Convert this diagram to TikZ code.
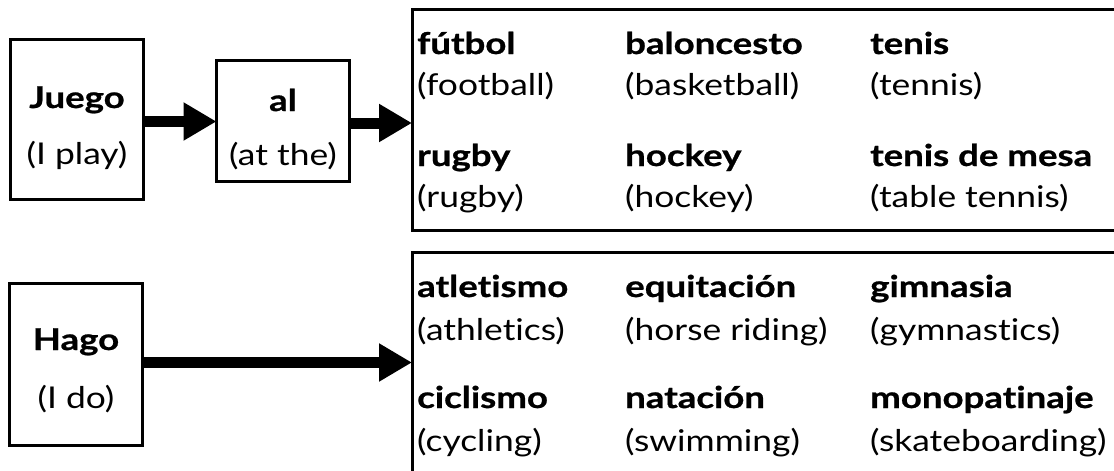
\documentclass[tikz,border=0pt]{standalone}
\usepackage{fontspec}
\setmainfont[Ligatures=NoCommon]{Lato}
\newfontfamily\trfont[Ligatures=NoCommon, FakeStretch=1.18]{Lato}
\newfontfamily\wdfont[Ligatures=NoCommon, FakeStretch=1.22, BoldFeatures={FakeBold=0.8}]{Lato}
\usetikzlibrary{arrows.meta}
\tikzset{
  frame/.style={draw=black, line width=3pt, rectangle, inner sep=0pt, outer sep=0pt},
  bigarrow/.style={line width=11pt, -{Triangle[length=33pt, width=36pt]}, shorten >=0pt},
  wd/.style={anchor=base west, inner sep=0pt, font=\wdfont\fontsize{30}{34}\selectfont\bfseries},
  tr/.style={anchor=base west, inner sep=0pt, font=\trfont\fontsize{30}{34}\selectfont},
  cwd/.style={wd, anchor=base},
  ctr/.style={tr, anchor=base},
}
\begin{document}
\begin{tikzpicture}[x=1pt,y=-1pt]
\useasboundingbox (0,0) rectangle (1114,471);
% left boxes
\node[frame, minimum width=133pt, minimum height=160pt] (juego) at (77,119.5) {};
\node[cwd] (juegoW) at (77,108) {Juego};
\node[ctr] (juegoT) at (77,164) {(I play)};
\node[frame, minimum width=133pt, minimum height=121pt] (al) at (283,121) {};
\node[cwd] (alW) at (283,111) {al};
\node[ctr] (alT) at (283,165) {(at the)};
\node[frame, minimum width=133pt, minimum height=162pt] (hago) at (76,364) {};
\node[cwd] (hagoW) at (76,350) {Hago};
\node[ctr] (hagoT) at (76,408) {(I do)};
% list boxes
\node[frame, minimum width=720pt, minimum height=221pt, anchor=north west] (top) at (412,9.5) {};
\node[frame, minimum width=720pt, minimum height=240pt, anchor=north west] (bot) at (412,252.5) {};
% arrows
\draw[bigarrow] ([yshift=-2pt]juego.east) -- ([yshift=-2pt]juego.east -| al.west);
\draw[bigarrow] ([yshift=-2pt]al.east) -- ([yshift=-2pt]al.east -| top.west);
\draw[bigarrow] ([yshift=1.5pt]hago.east) -- ([yshift=1.5pt]hago.east -| bot.west);
% top list
\node[wd] (w1) at (417,54) {fútbol};
\node[tr] (t1) at (417,95) {(football)};
\node[wd] (w2) at (625,54) {baloncesto};
\node[tr] (t2) at (625,95) {(basketball)};
\node[wd] (w3) at (870,54) {tenis};
\node[tr] (t3) at (870,95) {(tennis)};
\node[wd] (w4) at (417,166) {rugby};
\node[tr] (t4) at (417,207) {(rugby)};
\node[wd] (w5) at (625,166) {hockey};
\node[tr] (t5) at (625,207) {(hockey)};
\node[wd] (w6) at (870,166) {tenis de mesa};
\node[tr] (t6) at (870,207) {(table tennis)};
% bottom list
\node[wd] (w7) at (417,297) {atletismo};
\node[tr] (t7) at (417,340) {(athletics)};
\node[wd] (w8) at (625,297) {equitación};
\node[tr] (t8) at (625,340) {(horse riding)};
\node[wd] (w9) at (870,297) {gimnasia};
\node[tr] (t9) at (870,340) {(gymnastics)};
\node[wd] (w10) at (417,408) {ciclismo};
\node[tr] (t10) at (417,451) {(cycling)};
\node[wd] (w11) at (625,408) {natación};
\node[tr] (t11) at (625,451) {(swimming)};
\node[wd] (w12) at (870,408) {monopatinaje};
\node[tr] (t12) at (870,451) {(skateboarding)};
\end{tikzpicture}
\end{document}
